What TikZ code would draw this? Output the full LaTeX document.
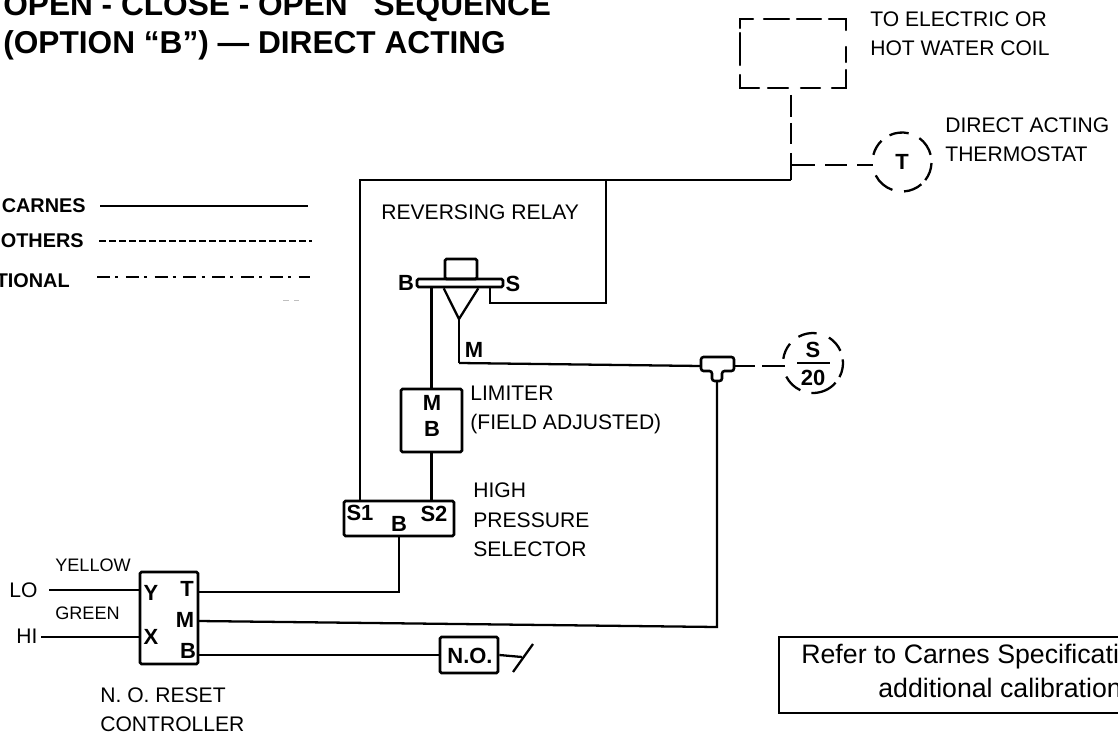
\documentclass[tikz,border=0pt]{standalone}
\usepackage{fontspec}
\setmainfont{Liberation Sans}
\usetikzlibrary{calc}
\tikzset{
	wire/.style={black,line width=1.3pt},
	box/.style={draw,black,line width=1.5pt,rounded corners=0.8pt,inner sep=0pt},
	lbl/.style={anchor=west,inner sep=0pt,align=left,font=\fontsize{12}{16.7}\selectfont},
	smalllbl/.style={anchor=west,inner sep=0pt,font=\fontsize{10.3}{12}\selectfont},
	titlelbl/.style={anchor=base west,inner sep=0pt,font=\fontsize{18}{20}\selectfont\bfseries},
	leglbl/.style={anchor=east,inner sep=0pt,font=\fontsize{11.3}{13}\selectfont\bfseries},
	notelbl/.style={anchor=west,inner sep=0pt,font=\fontsize{15.2}{17}\selectfont},
	tag/.style={inner sep=0pt,font=\fontsize{12.5}{14}\selectfont\bfseries},
}
\begin{document}
\begin{tikzpicture}[x=0.02cm,y=-0.02cm]
	\useasboundingbox (0,0) rectangle (1118,736);
	%Title
	\node[titlelbl] (title1) at (3,16) {OPEN - CLOSE - OPEN\hspace{14.7pt}SEQUENCE};
	\node[titlelbl] (title2) at (3,54) {(OPTION “B”) — DIRECT ACTING};
	%Legend
	\node[leglbl] (carnes) at (86,206) {CARNES};
	\node[leglbl] (others) at (84,241) {OTHERS};
	\node[leglbl] (optional) at (70,281) {TIONAL};
	\coordinate (solidA) at (100,206);
	\coordinate (solidB) at (308,206);
	\coordinate (dashA) at (99,241);
	\coordinate (dashB) at (312,241);
	\coordinate (dotA) at (97,277);
	\coordinate (dotB) at (310,277);
	\draw [wire] (solidA) -- (solidB);
	\draw [wire,dash pattern=on 4pt off 1.7pt] (dashA) -- (dashB);
	\draw [wire,dash pattern=on 7.4pt off 2.9pt on 1.7pt off 4.4pt] (dotA) -- (dotB);
	\draw [gray!50,line width=0.3pt] (283,300) -- (289,300) (294,300) -- (299,300);
	%Coil
	\draw [wire,line cap=round] (753,19) -- (740,19) -- (740,28) (740,33) -- (740,65) (740,75) -- (740,88) -- (759,88)
		(768,88) -- (788,88) (801,88) -- (820,88) (832,88) -- (846,88) -- (846,70) (846,62) -- (846,47)
		(846,30) -- (846,19) -- (829,19) (821,19) -- (797,19) (789,19) -- (764,19);
	\node[lbl] (coil) at (870,34) {TO ELECTRIC OR\\HOT WATER COIL};
	%Thermostat
	\coordinate (junction) at (791,180);
	\coordinate (topleft) at (360,180);
	\coordinate (branch) at (791,165);
	\node[tag] (tstat) at (902,162) {T};
	\node[lbl] (tstatlbl) at (945,140) {DIRECT ACTING\\THERMOSTAT};
	\draw [wire] (791,95) -- (791,117) (791,123) -- (791,144);
	\draw [wire] (791,153) -- (junction);
	\draw [wire] (branch) -- (815,165) (825,165) -- (847,165) (857,165) -- ($(tstat)+(-29.5,3)$);
	\foreach \a/\b in {115/77,54/14,-2/-38,-49/-86,-109/-153,166/134}
		\draw [wire] ($(tstat.center)+(\a:0.59cm)$) arc [start angle=\a,end angle=\b,radius=0.59cm];
	%Relay
	\node[lbl] (relaylbl) at (381,212) {REVERSING RELAY};
	\node[box,minimum width=1.72cm,minimum height=0.16cm] (flange) at (460,283) {};
	\node[box,minimum width=0.64cm,minimum height=0.4cm] (cap) at (461,269) {};
	\coordinate (apex) at (459,319);
	\coordinate (mbend) at (459,363);
	\coordinate (sdrop) at (490,303);
	\coordinate (srise) at (606,303);
	\node[tag] (relayB) at (406,283) {B};
	\node[tag] (relayS) at (513,284) {S};
	\node[tag] (relayM) at (474,350) {M};
	\draw [wire] (cap.west |- flange.south) -- (apex) -- (cap.east |- flange.south);
	\draw [wire] (apex) -- (mbend);
	\draw [wire] (flange.south -| sdrop) -- (sdrop) -- (srise) -- (srise |- topleft);
	%Limiter
	\node[box,minimum width=1.22cm,minimum height=1.26cm] (limiter) at (431.5,420.5) {};
	\node[tag] (limM) at (432,403) {M};
	\node[tag] (limB) at (432,429) {B};
	\node[lbl] (limlbl) at (470,410) {LIMITER\\(FIELD ADJUSTED)};
	\draw [wire] (limiter.north) -- (limiter.north |- flange.south);
	%Selector
	\node[box,minimum width=2.2cm,minimum height=0.7cm] (selector) at (399,518.5) {};
	\node[tag] (selS1) at (360,513) {S1};
	\node[tag] (selS2) at (434,514) {S2};
	\node[tag] (selB) at (399,524) {B};
	\node[lbl] (sellbl) at (473,520) {HIGH\\PRESSURE\\SELECTOR};
	\draw [wire] (limiter.south) -- (limiter.south |- selector.north);
	\draw [wire] (selS1 |- selector.north) -- (topleft) -- (junction);
	%Tee
	\coordinate (teeL) at (701,366);
	\coordinate (teeR) at (734,366);
	\coordinate (teeB) at (717,381);
	\coordinate (mcorner) at (717,627);
	\draw [wire,line width=1.5pt,rounded corners=1.5] (701,357) -- (734,357) -- (734,371) -- (722,371) -- (722,381) -- (712,381) -- (712,371) -- (701,371) -- cycle;
	\draw [wire] (mbend) -- (teeL);
	\node[tag] (sensS) at (813,350) {S};
	\node[tag] (sens20) at (813,378) {20};
	\coordinate (barL) at (797,363);
	\coordinate (barR) at (830,363);
	\draw [wire] (barL) -- (barR);
	\draw [wire] (teeR) -- (755,366) (762,366) -- (785,366);
	\coordinate (sensor) at (813,363);
	\foreach \a/\b in {119/83,58/24,7/-28,-41/-93,-115/-153,172/140}
		\draw [wire] ($(sensor)+(\a:0.6cm)$) arc [start angle=\a,end angle=\b,radius=0.6cm];
	%Controller
	\node[box,minimum width=1.16cm,minimum height=1.84cm] (ctrl) at (169,618) {};
	\node[tag] (ctrlY) at (151,593) {Y};
	\node[tag] (ctrlX) at (151,637) {X};
	\node[tag] (ctrlT) at (187,589) {T};
	\node[tag] (ctrlM) at (185,620) {M};
	\node[tag] (ctrlB) at (188,651) {B};
	\node[lbl] (ctrllbl) at (100,710) {N. O. RESET\\CONTROLLER};
	\node[smalllbl] (yellow) at (55,565) {YELLOW};
	\node[smalllbl] (green) at (55,613) {GREEN};
	\node[lbl] (lo) at (9,590) {LO};
	\node[lbl] (hi) at (16,636) {HI};
	\coordinate (loend) at (49,590);
	\coordinate (hiend) at (41,637);
	\draw [wire] (loend) -- (ctrl.west |- loend);
	\draw [wire] (hiend) -- (ctrl.west |- hiend);
	\coordinate (tout) at (198,592);
	\coordinate (mout) at (198,621);
	\coordinate (bout) at (198,655);
	\draw [wire] (tout) -- (selB |- tout) -- (selB |- selector.south);
	\draw [wire] (mout) -- (mcorner) -- (teeB);
	%Switch
	\node[box,minimum width=1.16cm,minimum height=0.72cm] (noswitch) at (469,655) {};
	\node[tag] (nolbl) at (470,656) {N.O.};
	\coordinate (nofree) at (522,657);
	\coordinate (slashA) at (513,672);
	\coordinate (slashB) at (533,644);
	\draw [wire] (bout) -- (noswitch.west);
	\draw [wire] (noswitch.east) -- (nofree);
	\draw [wire] (slashA) -- (slashB);
	%Note
	\draw [wire,line width=1.6pt] (1118,637) -- (779,637) -- (779,713) -- (1118,713);
	\node[notelbl] (note1) at (801,657) {Refer to Carnes Specificati};
	\node[notelbl] (note2) at (878,688) {additional calibration};
\end{tikzpicture}
\end{document}
